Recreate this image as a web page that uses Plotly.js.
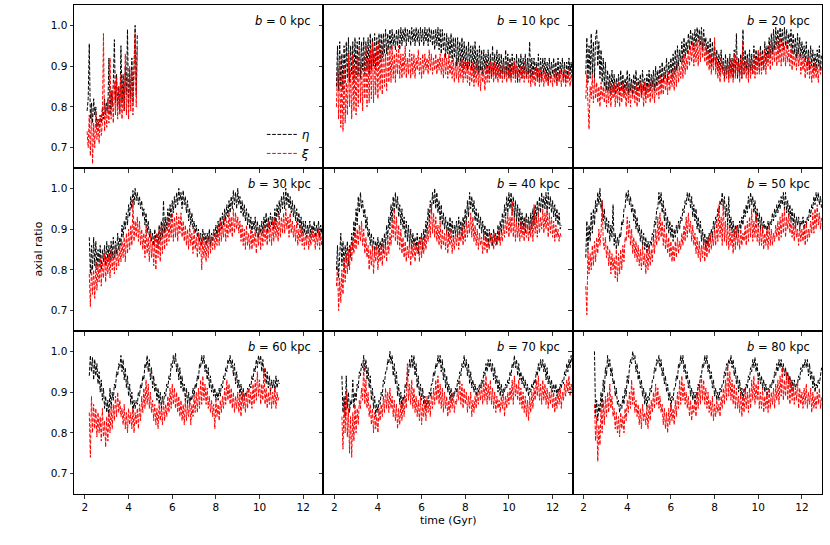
<!DOCTYPE html>
<html>
<head>
<meta charset="utf-8">
<script src="https://cdn.plot.ly/plotly-3.0.1.min.js"></script>
<style>html,body{margin:0;padding:0;background:#fff;}#chart{width:830px;height:545px;}</style>
</head>
<body>
<div id="chart"></div>
<script>
// time grid (Gyr)
const timeGyr = [2.1,2.15,2.2,2.25,2.3,2.35,2.4,2.45,2.5,2.55,
2.6,2.65,2.7,2.75,2.8,2.85,2.9,2.95,3.0,3.05,
3.1,3.15,3.2,3.25,3.3,3.35,3.4,3.45,3.5,3.55,
3.6,3.65,3.7,3.75,3.8,3.85,3.9,3.95,4.0,4.05,
4.1,4.15,4.2,4.25,4.3,4.35,4.4,4.45,4.5,4.55,
4.6,4.65,4.7,4.75,4.8,4.85,4.9,4.95,5.0,5.05,
5.1,5.15,5.2,5.25,5.3,5.35,5.4,5.45,5.5,5.55,
5.6,5.65,5.7,5.75,5.8,5.85,5.9,5.95,6.0,6.05,
6.1,6.15,6.2,6.25,6.3,6.35,6.4,6.45,6.5,6.55,
6.6,6.65,6.7,6.75,6.8,6.85,6.9,6.95,7.0,7.05,
7.1,7.15,7.2,7.25,7.3,7.35,7.4,7.45,7.5,7.55,
7.6,7.65,7.7,7.75,7.8,7.85,7.9,7.95,8.0,8.05,
8.1,8.15,8.2,8.25,8.3,8.35,8.4,8.45,8.5,8.55,
8.6,8.65,8.7,8.75,8.8,8.85,8.9,8.95,9.0,9.05,
9.1,9.15,9.2,9.25,9.3,9.35,9.4,9.45,9.5,9.55,
9.6,9.65,9.7,9.75,9.8,9.85,9.9,9.95,10.0,10.05,
10.1,10.15,10.2,10.25,10.3,10.35,10.4,10.45,10.5,10.55,
10.6,10.65,10.7,10.75,10.8,10.85,10.9,10.95,11.0,11.05,
11.1,11.15,11.2,11.25,11.3,11.35,11.4,11.45,11.5,11.55,
11.6,11.65,11.7,11.75,11.8,11.85,11.9,11.95,12.0,12.05,
12.1,12.15,12.2,12.25,12.3,12.35,12.4,12.45,12.5,12.55,
12.6,12.65,12.7,12.75,12.8,12.85,12.9];

const panelLabels = ["0","10","20","30","40","50","60","70","80"];
const xTicks = [2,4,6,8,10,12];
const yTicks = [0.7,0.8,0.9,1.0];
const yTickText = ["0.7","0.8","0.9","1.0"];

// b = 0 kpc
const eta_b0 = [0.79,0.82,0.955,0.77,0.81,0.76,0.82,0.78,0.80,0.75,
0.77,0.75,0.78,0.76,0.80,0.77,0.82,0.78,0.81,0.79,
0.92,0.78,0.84,0.80,0.86,0.965,0.81,0.88,0.80,0.85,
0.79,0.95,0.81,0.88,0.79,0.90,0.83,0.99,0.80,0.89,
0.82,0.92,0.81,0.91,1.00,0.83,0.98];
const xi_b0 = [0.74,0.70,0.78,0.68,0.80,0.66,0.76,0.70,0.79,0.72,
0.77,0.71,0.78,0.73,0.76,0.98,0.74,0.80,0.75,0.82,
0.76,0.92,0.77,0.84,0.76,0.86,0.78,0.87,0.77,0.85,
0.78,0.88,0.77,0.86,0.79,0.93,0.78,0.88,0.77,0.90,
0.79,0.89,0.78,0.91,0.98,0.80,0.95];

// b = 10 kpc
const eta_b10 = [0.85,0.95,0.84,0.96,0.85,0.93,0.84,0.95,0.86,0.96,
0.87,0.97,0.86,0.95,0.88,0.96,0.86,0.97,0.87,0.96,
0.88,0.97,0.87,0.96,0.89,0.97,0.88,0.96,0.89,0.97,
0.88,0.98,0.89,0.97,0.90,0.98,0.89,0.97,0.90,0.98,
0.91,0.98,0.92,0.98,0.93,0.99,0.93,0.98,0.94,0.99,
0.94,0.99,0.95,0.98,0.94,0.99,0.95,0.99,0.94,0.995,
0.95,0.99,0.96,0.995,0.95,0.99,0.96,0.99,0.95,0.995,
0.96,0.99,0.95,0.995,0.96,0.99,0.95,0.995,0.96,0.99,
0.95,0.995,0.96,0.99,0.95,0.995,0.96,0.99,0.95,0.99,
0.94,0.99,0.95,0.995,0.94,0.99,0.93,0.99,0.94,0.98,
0.92,0.98,0.93,0.97,0.92,0.98,0.91,0.97,0.92,0.97,
0.90,0.97,0.91,0.96,0.90,0.97,0.89,0.96,0.90,0.95,
0.89,0.96,0.90,0.95,0.89,0.95,0.88,0.96,0.89,0.94,
0.88,0.95,0.89,0.94,0.88,0.94,0.89,0.93,0.88,0.94,
0.88,0.93,0.87,0.95,0.88,0.93,0.87,0.94,0.88,0.93,
0.87,0.93,0.88,0.92,0.87,0.94,0.88,0.93,0.87,0.92,
0.87,0.93,0.88,0.92,0.87,0.93,0.86,0.92,0.88,0.93,
0.87,0.92,0.88,0.93,0.87,0.92,0.88,0.96,0.87,0.92,
0.87,0.92,0.88,0.91,0.87,0.93,0.86,0.92,0.87,0.92,
0.88,0.92,0.87,0.91,0.86,0.92,0.87,0.91,0.88,0.92,
0.87,0.91,0.86,0.92,0.87,0.91,0.88,0.92,0.87,0.91,
0.86,0.91,0.87,0.92,0.88,0.91,0.87];
const xi_b10 = [0.80,0.90,0.77,0.92,0.75,0.88,0.74,0.90,0.76,0.86,
0.78,0.93,0.80,0.89,0.77,0.93,0.79,0.90,0.78,0.92,
0.80,0.95,0.81,0.91,0.79,0.93,0.82,0.95,0.80,0.92,
0.81,0.94,0.82,0.96,0.81,0.93,0.83,0.95,0.82,0.96,
0.84,0.94,0.83,0.96,0.85,0.93,0.84,0.95,0.86,0.94,
0.86,0.95,0.87,0.93,0.86,0.94,0.88,0.95,0.87,0.93,
0.87,0.93,0.88,0.95,0.87,0.92,0.88,0.94,0.87,0.93,
0.88,0.93,0.87,0.92,0.89,0.94,0.88,0.92,0.87,0.93,
0.88,0.93,0.89,0.92,0.88,0.94,0.89,0.93,0.88,0.92,
0.89,0.93,0.88,0.92,0.89,0.93,0.88,0.92,0.87,0.93,
0.88,0.92,0.87,0.93,0.88,0.91,0.87,0.92,0.86,0.91,
0.87,0.92,0.86,0.91,0.87,0.92,0.86,0.91,0.87,0.91,
0.86,0.91,0.85,0.90,0.86,0.91,0.85,0.90,0.86,0.91,
0.85,0.90,0.84,0.90,0.86,0.89,0.84,0.91,0.86,0.90,
0.86,0.91,0.87,0.90,0.86,0.91,0.87,0.90,0.86,0.91,
0.87,0.90,0.86,0.91,0.87,0.90,0.86,0.91,0.87,0.90,
0.86,0.90,0.87,0.91,0.86,0.90,0.87,0.89,0.86,0.90,
0.87,0.90,0.86,0.91,0.87,0.89,0.86,0.90,0.85,0.89,
0.86,0.89,0.85,0.90,0.86,0.89,0.85,0.89,0.86,0.88,
0.85,0.89,0.86,0.88,0.85,0.89,0.86,0.88,0.85,0.89,
0.86,0.89,0.85,0.88,0.86,0.89,0.85,0.88,0.86,0.89,
0.85,0.88,0.86,0.89,0.85,0.88,0.86];

// b = 20 kpc
const eta_b20 = [0.88,0.97,0.86,0.95,0.87,0.98,0.88,0.96,0.87,0.97,
0.99,0.90,0.96,0.87,0.94,0.86,0.92,0.85,0.91,0.84,
0.89,0.84,0.88,0.83,0.89,0.84,0.88,0.83,0.87,0.84,
0.88,0.83,0.89,0.84,0.88,0.83,0.87,0.84,0.89,0.83,
0.88,0.84,0.87,0.83,0.88,0.84,0.89,0.83,0.87,0.84,
0.88,0.83,0.89,0.84,0.87,0.83,0.88,0.84,0.89,0.84,
0.88,0.85,0.89,0.84,0.90,0.85,0.89,0.86,0.90,0.85,
0.91,0.86,0.90,0.87,0.92,0.86,0.91,0.88,0.92,0.87,
0.93,0.88,0.94,0.89,0.95,0.90,0.94,0.91,0.96,0.91,
0.97,0.92,0.96,0.93,0.98,0.94,0.99,0.95,0.98,0.94,
0.99,0.95,0.995,0.96,0.99,0.95,0.995,0.94,0.99,0.95,
0.97,0.93,0.96,0.91,0.97,0.90,0.96,0.91,0.95,0.90,
0.94,0.89,0.93,0.88,0.94,0.89,0.92,0.87,0.93,0.88,
0.92,0.87,0.93,0.88,0.92,0.87,0.94,0.88,0.98,0.87,
0.92,0.88,0.93,0.87,0.99,0.88,0.94,0.89,0.93,0.88,
0.94,0.89,0.93,0.88,0.95,0.89,0.94,0.90,0.93,0.89,
0.95,0.90,0.94,0.89,0.96,0.91,0.95,0.92,0.97,0.92,
0.98,0.93,0.99,0.94,0.995,0.95,0.99,0.94,0.995,0.95,
0.99,0.94,0.995,0.95,0.99,0.94,0.98,0.95,0.99,0.93,
0.98,0.93,0.97,0.92,0.98,0.93,0.97,0.92,0.96,0.92,
0.95,0.91,0.96,0.90,0.94,0.89,0.95,0.90,0.94,0.89,
0.93,0.89,0.94,0.90,0.95,0.89,0.93];
const xi_b20 = [0.82,0.88,0.81,0.745,0.85,0.82,0.88,0.81,0.87,0.82,
0.86,0.81,0.85,0.80,0.86,0.82,0.85,0.81,0.86,0.80,
0.85,0.81,0.86,0.80,0.85,0.82,0.86,0.80,0.85,0.81,
0.86,0.80,0.85,0.81,0.86,0.82,0.85,0.80,0.86,0.81,
0.85,0.80,0.86,0.82,0.85,0.81,0.86,0.80,0.85,0.81,
0.86,0.82,0.85,0.80,0.86,0.81,0.85,0.82,0.86,0.81,
0.86,0.82,0.87,0.81,0.86,0.83,0.87,0.82,0.88,0.83,
0.87,0.83,0.88,0.84,0.87,0.83,0.89,0.84,0.88,0.85,
0.89,0.84,0.90,0.85,0.91,0.86,0.90,0.87,0.92,0.87,
0.93,0.88,0.92,0.89,0.94,0.90,0.95,0.91,0.96,0.90,
0.95,0.91,0.96,0.90,0.97,0.91,0.975,0.92,0.96,0.91,
0.95,0.90,0.94,0.89,0.93,0.88,0.92,0.89,0.97,0.88,
0.92,0.87,0.91,0.86,0.92,0.88,0.91,0.86,0.90,0.87,
0.91,0.86,0.92,0.87,0.91,0.86,0.93,0.87,0.92,0.88,
0.91,0.86,0.92,0.87,0.96,0.88,0.91,0.87,0.92,0.86,
0.92,0.87,0.91,0.88,0.93,0.87,0.92,0.88,0.94,0.88,
0.93,0.88,0.92,0.89,0.94,0.88,0.93,0.90,0.95,0.89,
0.96,0.90,0.95,0.91,0.97,0.90,0.96,0.91,0.97,0.90,
0.96,0.91,0.95,0.90,0.96,0.91,0.94,0.90,0.95,0.89,
0.94,0.90,0.93,0.89,0.94,0.90,0.93,0.88,0.92,0.89,
0.92,0.87,0.91,0.88,0.92,0.87,0.91,0.86,0.90,0.87,
0.91,0.87,0.90,0.86,0.91,0.88,0.90];

// b = 30 kpc
const eta_b30 = [null,null,0.88,0.79,0.86,0.80,0.88,0.81,0.87,0.80,
0.85,0.81,0.86,0.80,0.85,0.82,0.86,0.81,0.87,0.82,
0.86,0.82,0.87,0.83,0.88,0.83,0.87,0.84,0.89,0.85,
0.88,0.86,0.91,0.88,0.92,0.90,0.94,0.91,0.96,0.93,
0.98,0.95,0.995,0.96,1.00,0.97,0.99,0.96,0.98,0.95,
0.97,0.93,0.95,0.91,0.94,0.89,0.92,0.88,0.90,0.87,
0.89,0.86,0.90,0.87,0.89,0.86,0.91,0.87,0.92,0.88,
0.97,0.89,0.93,0.90,0.95,0.91,0.96,0.92,0.97,0.94,
0.98,0.95,0.99,0.96,1.00,0.97,0.99,0.95,0.995,0.96,
0.98,0.94,0.97,0.92,0.95,0.91,0.94,0.90,0.92,0.89,
0.91,0.88,0.90,0.87,0.89,0.86,0.90,0.87,0.89,0.86,
0.89,0.87,0.90,0.86,0.89,0.87,0.90,0.88,0.91,0.88,
0.92,0.89,0.93,0.90,0.94,0.91,0.95,0.92,0.96,0.93,
0.97,0.94,0.98,0.95,0.995,0.96,0.99,0.95,1.00,0.96,
0.98,0.94,0.97,0.93,0.96,0.92,0.95,0.91,0.94,0.90,
0.93,0.89,0.92,0.90,0.93,0.89,0.92,0.88,0.91,0.89,
0.92,0.89,0.93,0.90,0.94,0.89,0.93,0.90,0.94,0.91,
0.93,0.90,0.95,0.91,0.96,0.93,0.97,0.94,0.98,0.95,
0.99,0.95,1.00,0.96,0.99,0.95,0.98,0.94,0.97,0.93,
0.96,0.92,0.95,0.91,0.94,0.90,0.93,0.89,0.92,0.89,
0.92,0.88,0.91,0.89,0.92,0.88,0.91,0.89,0.92,0.88,
0.91,0.89,0.92,0.88,0.91,0.89,0.92];
const xi_b30 = [null,null,0.79,0.71,0.81,0.74,0.80,0.73,0.82,0.75,
0.81,0.77,0.83,0.76,0.82,0.78,0.84,0.77,0.83,0.79,
0.84,0.78,0.85,0.80,0.84,0.79,0.86,0.80,0.85,0.81,
0.86,0.82,0.87,0.83,0.88,0.82,0.89,0.84,0.90,0.85,
0.91,0.86,0.97,0.87,0.92,0.88,0.93,0.87,0.92,0.86,
0.90,0.85,0.89,0.83,0.91,0.84,0.88,0.82,0.89,0.83,
0.87,0.81,0.88,0.80,0.89,0.83,0.90,0.82,0.91,0.84,
0.92,0.85,0.91,0.86,0.93,0.87,0.92,0.88,0.94,0.87,
0.93,0.88,0.94,0.87,0.93,0.89,0.94,0.88,0.92,0.87,
0.91,0.86,0.90,0.85,0.91,0.86,0.89,0.84,0.90,0.85,
0.88,0.83,0.89,0.84,0.87,0.80,0.88,0.83,0.87,0.82,
0.88,0.83,0.89,0.84,0.88,0.85,0.90,0.85,0.89,0.86,
0.91,0.86,0.92,0.87,0.91,0.88,0.93,0.87,0.92,0.88,
0.94,0.89,0.93,0.88,0.95,0.89,0.94,0.90,0.93,0.89,
0.92,0.87,0.91,0.86,0.90,0.85,0.91,0.86,0.89,0.85,
0.90,0.85,0.89,0.86,0.90,0.84,0.89,0.86,0.91,0.85,
0.90,0.86,0.91,0.87,0.90,0.86,0.92,0.87,0.91,0.86,
0.92,0.87,0.93,0.88,0.92,0.87,0.94,0.88,0.93,0.89,
0.94,0.89,0.95,0.90,0.93,0.88,0.94,0.89,0.92,0.88,
0.91,0.87,0.92,0.86,0.90,0.87,0.91,0.86,0.90,0.85,
0.89,0.86,0.90,0.85,0.89,0.86,0.90,0.87,0.89,0.85,
0.89,0.86,0.90,0.85,0.89,0.86,0.88];

// b = 40 kpc
const eta_b40 = [0.80,0.86,0.78,0.84,0.89,0.81,0.87,0.80,0.86,0.82,
0.87,0.81,0.86,0.83,0.89,0.85,0.92,0.88,0.95,0.91,
0.98,0.94,0.99,0.95,0.97,0.93,0.95,0.90,0.93,0.88,
0.90,0.86,0.89,0.85,0.88,0.84,0.87,0.85,0.88,0.84,
0.87,0.85,0.88,0.84,0.89,0.86,0.91,0.88,0.93,0.90,
0.96,0.92,0.98,0.94,0.99,0.95,0.98,0.93,0.96,0.91,
0.95,0.90,0.93,0.88,0.92,0.87,0.91,0.86,0.90,0.85,
0.89,0.86,0.88,0.85,0.89,0.84,0.88,0.86,0.89,0.85,
0.90,0.87,0.92,0.89,0.95,0.92,0.97,0.94,0.99,0.96,
1.00,0.95,0.99,0.94,0.97,0.92,0.96,0.91,0.94,0.90,
0.93,0.89,0.92,0.88,0.93,0.89,0.92,0.88,0.91,0.89,
0.92,0.88,0.93,0.89,0.92,0.88,0.93,0.90,0.95,0.91,
0.97,0.93,0.99,0.95,0.98,0.94,0.97,0.92,0.95,0.91,
0.94,0.90,0.93,0.89,0.92,0.88,0.91,0.87,0.90,0.86,
0.90,0.87,0.89,0.86,0.90,0.87,0.89,0.86,0.91,0.87,
0.92,0.89,0.94,0.90,0.96,0.93,0.98,0.94,0.99,0.95,
0.99,0.94,0.98,0.93,0.97,0.92,0.96,0.91,0.95,0.90,
0.94,0.90,0.93,0.89,0.94,0.90,0.93,0.89,0.94,0.90,
0.95,0.91,0.96,0.92,0.97,0.93,0.98,0.94,0.99,0.95,
0.98,0.95,0.99,0.94,0.99,0.95,0.98,0.94,0.97,0.93,
0.96,0.92,0.95,0.91,0.94,0.90,0.91];
const xi_b40 = [0.76,0.81,0.70,0.78,0.72,0.80,0.74,0.83,0.77,0.84,
0.79,0.85,0.80,0.86,0.82,0.87,0.84,0.89,0.85,0.90,
0.86,0.91,0.87,0.92,0.86,0.90,0.84,0.88,0.83,0.86,
0.80,0.85,0.81,0.86,0.79,0.85,0.82,0.86,0.80,0.85,
0.82,0.86,0.81,0.87,0.83,0.86,0.82,0.88,0.84,0.89,
0.86,0.92,0.88,0.95,0.87,0.93,0.86,0.91,0.85,0.90,
0.84,0.88,0.83,0.87,0.82,0.86,0.83,0.87,0.81,0.86,
0.83,0.87,0.82,0.86,0.84,0.87,0.82,0.88,0.83,0.87,
0.84,0.88,0.85,0.89,0.87,0.92,0.88,0.96,0.89,0.94,
0.88,0.93,0.87,0.91,0.86,0.92,0.85,0.90,0.86,0.89,
0.85,0.90,0.84,0.89,0.86,0.90,0.84,0.88,0.85,0.89,
0.86,0.90,0.85,0.89,0.87,0.91,0.86,0.90,0.87,0.92,
0.88,0.92,0.89,0.94,0.88,0.93,0.87,0.91,0.86,0.90,
0.85,0.89,0.86,0.88,0.84,0.89,0.85,0.88,0.84,0.87,
0.85,0.89,0.86,0.88,0.85,0.89,0.86,0.88,0.87,0.90,
0.86,0.89,0.87,0.91,0.88,0.93,0.89,0.94,0.88,0.93,
0.89,0.97,0.88,0.93,0.87,0.92,0.88,0.91,0.87,0.92,
0.88,0.91,0.87,0.93,0.88,0.91,0.87,0.92,0.88,0.93,
0.87,0.96,0.89,0.93,0.88,0.94,0.89,0.93,0.90,0.95,
0.89,0.94,0.90,0.95,0.88,0.94,0.89,0.93,0.88,0.92,
0.87,0.91,0.88,0.90,0.87,0.89,0.88];

// b = 50 kpc
const eta_b50 = [0.83,0.92,0.85,0.91,0.87,0.94,0.89,0.95,0.91,0.97,
0.94,0.99,0.96,1.00,0.95,0.97,0.92,0.95,0.90,0.93,
0.89,0.92,0.87,0.91,0.88,0.96,0.86,0.89,0.85,0.88,
0.86,0.89,0.88,0.92,0.91,0.95,0.95,0.99,0.97,0.995,
0.96,0.98,0.94,0.96,0.92,0.95,0.90,0.93,0.89,0.91,
0.87,0.90,0.86,0.89,0.85,0.88,0.84,0.87,0.85,0.87,
0.86,0.89,0.88,0.92,0.91,0.95,0.95,0.99,0.96,0.99,
0.94,0.97,0.92,0.95,0.90,0.93,0.89,0.92,0.88,0.91,
0.87,0.90,0.88,0.91,0.89,0.92,0.90,0.93,0.92,0.95,
0.94,0.97,0.96,0.99,0.97,0.99,0.95,0.98,0.93,0.96,
0.92,0.95,0.90,0.93,0.89,0.92,0.87,0.90,0.86,0.89,
0.85,0.88,0.86,0.89,0.87,0.90,0.88,0.92,0.90,0.93,
0.92,0.95,0.94,0.97,0.96,0.99,0.95,0.98,0.93,0.96,
0.91,0.98,0.90,0.93,0.89,0.92,0.88,0.91,0.88,0.91,
0.89,0.92,0.90,0.93,0.91,0.95,0.93,0.96,0.94,0.98,
0.95,0.99,0.96,0.98,0.94,0.97,0.92,0.95,0.91,0.94,
0.90,0.93,0.89,0.92,0.90,0.91,0.89,0.92,0.90,0.92,
0.91,0.94,0.92,0.95,0.93,0.96,0.94,0.97,0.95,0.98,
0.96,0.99,0.95,0.99,0.94,0.97,0.93,0.96,0.92,0.95,
0.91,0.94,0.90,0.93,0.91,0.93,0.90,0.92,0.91,0.93,
0.90,0.92,0.91,0.93,0.92,0.95,0.93,0.96,0.95,0.98,
0.96,0.99,0.97,0.99,0.96,0.98,0.95];
const xi_b50 = [0.76,0.69,0.85,0.79,0.84,0.80,0.86,0.81,0.87,0.82,
0.88,0.84,0.90,0.86,0.89,0.97,0.87,0.85,0.88,0.83,
0.86,0.81,0.85,0.79,0.84,0.80,0.83,0.78,0.85,0.77,
0.84,0.79,0.85,0.80,0.86,0.82,0.88,0.87,0.93,0.88,
0.92,0.86,0.90,0.84,0.88,0.83,0.87,0.82,0.86,0.81,
0.85,0.80,0.86,0.81,0.84,0.79,0.85,0.80,0.86,0.81,
0.85,0.82,0.88,0.84,0.90,0.86,0.93,0.87,0.94,0.88,
0.92,0.86,0.91,0.85,0.89,0.84,0.88,0.83,0.87,0.82,
0.86,0.82,0.87,0.83,0.88,0.84,0.87,0.85,0.89,0.86,
0.91,0.87,0.93,0.88,0.94,0.89,0.92,0.87,0.91,0.86,
0.89,0.84,0.88,0.83,0.87,0.82,0.86,0.83,0.88,0.82,
0.87,0.83,0.88,0.84,0.89,0.85,0.88,0.86,0.90,0.86,
0.92,0.87,0.96,0.88,0.93,0.86,0.97,0.87,0.92,0.86,
0.91,0.85,0.90,0.86,0.89,0.84,0.90,0.85,0.91,0.86,
0.89,0.85,0.90,0.86,0.89,0.87,0.91,0.86,0.92,0.87,
0.93,0.88,0.95,0.87,0.92,0.88,0.94,0.87,0.91,0.86,
0.90,0.86,0.91,0.85,0.89,0.86,0.90,0.85,0.91,0.86,
0.90,0.86,0.89,0.87,0.91,0.88,0.92,0.87,0.93,0.88,
0.94,0.89,0.95,0.88,0.93,0.90,0.94,0.89,0.92,0.88,
0.91,0.87,0.92,0.88,0.90,0.86,0.91,0.87,0.90,0.87,
0.91,0.86,0.92,0.87,0.90,0.88,0.92,0.89,0.94,0.89,
0.95,0.90,0.96,0.91,0.94,0.90,0.93];

// b = 60 kpc
const eta_b60 = [null,null,0.94,0.99,0.95,0.985,0.93,0.98,0.94,0.97,
0.92,0.95,0.90,0.93,0.88,0.91,0.86,0.89,0.85,0.88,
0.84,0.91,0.86,0.90,0.88,0.92,0.91,0.95,0.94,0.97,
0.96,0.99,0.95,0.98,0.93,0.96,0.91,0.94,0.89,0.92,
0.87,0.90,0.85,0.88,0.86,0.88,0.87,0.90,0.89,0.92,
0.91,0.94,0.93,0.97,0.96,0.99,0.95,0.98,0.93,0.96,
0.91,0.94,0.90,0.92,0.88,0.91,0.87,0.90,0.86,0.89,
0.87,0.90,0.89,0.92,0.91,0.94,0.93,0.97,0.96,0.99,
0.97,0.995,0.95,0.97,0.93,0.96,0.91,0.94,0.90,0.92,
0.88,0.91,0.87,0.90,0.87,0.89,0.88,0.91,0.89,0.92,
0.91,0.94,0.93,0.97,0.96,0.99,0.97,0.99,0.95,0.97,
0.93,0.96,0.91,0.94,0.90,0.92,0.89,0.91,0.88,0.90,
0.88,0.91,0.89,0.92,0.91,0.94,0.93,0.96,0.95,0.98,
0.97,0.99,0.96,0.98,0.94,0.97,0.92,0.95,0.91,0.93,
0.89,0.92,0.88,0.91,0.88,0.90,0.89,0.91,0.90,0.92,
0.91,0.94,0.93,0.96,0.95,0.98,0.96,0.99,0.97,0.99,
0.95,0.98,0.94,0.96,0.92,0.95,0.91,0.94,0.90,0.93,
0.91,0.93,0.90,0.94,0.91,0.93,0.92];
const xi_b60 = [null,null,0.85,0.74,0.89,0.80,0.87,0.81,0.86,0.79,
0.85,0.80,0.84,0.78,0.86,0.79,0.83,0.765,0.84,0.78,
0.85,0.80,0.86,0.81,0.87,0.83,0.89,0.84,0.90,0.85,
0.88,0.84,0.86,0.82,0.87,0.81,0.85,0.80,0.86,0.82,
0.85,0.81,0.86,0.80,0.85,0.82,0.86,0.81,0.87,0.83,
0.89,0.85,0.91,0.86,0.93,0.87,0.92,0.86,0.90,0.85,
0.88,0.83,0.87,0.82,0.86,0.81,0.87,0.83,0.86,0.82,
0.88,0.83,0.87,0.84,0.89,0.85,0.91,0.86,0.92,0.87,
0.91,0.86,0.90,0.85,0.89,0.84,0.88,0.83,0.87,0.82,
0.88,0.83,0.87,0.84,0.88,0.82,0.87,0.84,0.89,0.85,
0.90,0.85,0.91,0.86,0.93,0.87,0.94,0.88,0.92,0.87,
0.91,0.86,0.89,0.85,0.88,0.84,0.87,0.81,0.88,0.84,
0.87,0.83,0.88,0.85,0.89,0.86,0.91,0.87,0.93,0.88,
0.92,0.87,0.91,0.86,0.90,0.85,0.89,0.86,0.90,0.85,
0.89,0.84,0.90,0.86,0.89,0.85,0.90,0.86,0.91,0.87,
0.90,0.86,0.92,0.87,0.93,0.88,0.95,0.89,0.93,0.87,
0.92,0.88,0.96,0.87,0.91,0.86,0.90,0.87,0.91,0.86,
0.90,0.87,0.91,0.86,0.90,0.88,0.89];

// b = 70 kpc
const eta_b70 = [null,null,null,null,null,0.94,0.85,0.89,0.84,0.94,
0.86,0.90,0.85,0.88,0.87,0.93,0.86,0.90,0.88,0.92,
0.91,0.95,0.94,0.97,0.96,0.99,0.95,0.98,0.93,0.96,
0.91,0.94,0.88,0.91,0.86,0.89,0.84,0.87,0.85,0.88,
0.87,0.90,0.89,0.93,0.92,0.95,0.95,0.98,0.97,1.00,
0.97,0.99,0.94,0.97,0.92,0.95,0.89,0.92,0.87,0.90,
0.86,0.89,0.88,0.92,0.91,0.95,0.94,0.98,0.96,0.99,
0.96,0.99,0.94,0.97,0.91,0.94,0.89,0.92,0.88,0.91,
0.87,0.89,0.86,0.88,0.87,0.90,0.89,0.92,0.92,0.95,
0.94,0.97,0.96,0.99,0.97,0.99,0.95,0.98,0.93,0.96,
0.91,0.94,0.90,0.92,0.88,0.91,0.88,0.90,0.89,0.91,
0.90,0.93,0.92,0.95,0.94,0.97,0.96,0.99,0.96,0.98,
0.94,0.97,0.92,0.95,0.91,0.93,0.90,0.92,0.89,0.91,
0.90,0.92,0.91,0.93,0.92,0.95,0.94,0.97,0.95,0.98,
0.96,0.98,0.95,0.97,0.93,0.96,0.92,0.94,0.90,0.93,
0.89,0.92,0.89,0.91,0.90,0.92,0.91,0.93,0.92,0.95,
0.94,0.97,0.96,0.99,0.96,0.98,0.94,0.97,0.93,0.95,
0.92,0.94,0.91,0.93,0.90,0.92,0.89,0.91,0.90,0.92,
0.91,0.93,0.92,0.95,0.94,0.97,0.95,0.98,0.96,0.98,
0.95,0.97,0.93,0.96,0.92,0.94,0.91,0.93,0.90,0.92,
0.90,0.92,0.89,0.91,0.90,0.92,0.91,0.93,0.92,0.95,
0.94,0.97,0.95,0.98,0.96,0.99,0.97];
const xi_b70 = [null,null,null,null,null,0.84,0.76,0.88,0.80,0.90,
0.79,0.86,0.75,0.84,0.74,0.85,0.78,0.87,0.80,0.86,
0.82,0.88,0.86,0.91,0.88,0.97,0.87,0.93,0.86,0.90,
0.84,0.87,0.82,0.86,0.80,0.85,0.81,0.84,0.80,0.86,
0.83,0.87,0.84,0.89,0.85,0.91,0.86,0.90,0.85,0.91,
0.86,0.89,0.84,0.88,0.83,0.87,0.81,0.86,0.82,0.87,
0.83,0.88,0.84,0.89,0.86,0.97,0.88,0.92,0.87,0.93,
0.86,0.91,0.85,0.89,0.84,0.88,0.83,0.89,0.82,0.87,
0.84,0.88,0.83,0.89,0.85,0.88,0.84,0.90,0.86,0.91,
0.87,0.93,0.88,0.94,0.87,0.92,0.86,0.91,0.85,0.90,
0.86,0.89,0.84,0.88,0.85,0.89,0.86,0.90,0.85,0.88,
0.87,0.91,0.88,0.93,0.87,0.92,0.86,0.91,0.87,0.90,
0.85,0.89,0.86,0.90,0.84,0.88,0.85,0.89,0.86,0.90,
0.87,0.91,0.88,0.92,0.87,0.93,0.88,0.94,0.87,0.92,
0.88,0.93,0.87,0.91,0.86,0.90,0.85,0.89,0.86,0.88,
0.85,0.89,0.86,0.90,0.84,0.89,0.86,0.90,0.87,0.91,
0.88,0.93,0.87,0.94,0.89,0.92,0.88,0.93,0.87,0.91,
0.86,0.90,0.85,0.89,0.84,0.88,0.83,0.89,0.85,0.90,
0.86,0.91,0.88,0.93,0.89,0.94,0.88,0.92,0.87,0.93,
0.88,0.92,0.87,0.91,0.86,0.90,0.87,0.91,0.86,0.90,
0.85,0.89,0.86,0.90,0.87,0.91,0.86,0.90,0.88,0.92,
0.89,0.93,0.90,0.94,0.89,0.92,0.90];

// b = 80 kpc
const eta_b80 = [null,null,null,null,null,null,null,null,1.00,0.84,
0.88,0.83,0.87,0.85,0.90,0.86,0.93,0.90,0.96,0.94,
0.99,0.96,0.98,0.94,0.96,0.92,0.93,0.89,0.91,0.87,
0.88,0.85,0.87,0.86,0.89,0.87,0.91,0.89,0.94,0.92,
0.96,0.98,0.97,1.00,0.98,0.99,0.95,0.97,0.93,0.95,
0.91,0.93,0.89,0.91,0.87,0.90,0.86,0.89,0.88,0.91,
0.90,0.93,0.93,0.96,0.95,0.98,0.97,0.99,0.96,0.98,
0.94,0.96,0.92,0.94,0.90,0.92,0.88,0.90,0.86,0.89,
0.88,0.91,0.91,0.94,0.93,0.97,0.96,0.99,0.97,0.99,
0.95,0.97,0.93,0.95,0.91,0.93,0.89,0.91,0.88,0.90,
0.87,0.90,0.89,0.92,0.91,0.94,0.94,0.97,0.96,0.99,
0.97,0.99,0.95,0.97,0.93,0.95,0.91,0.93,0.89,0.91,
0.88,0.90,0.88,0.91,0.90,0.92,0.92,0.95,0.94,0.97,
0.96,0.98,0.97,0.99,0.96,0.98,0.94,0.96,0.92,0.94,
0.90,0.93,0.89,0.91,0.88,0.91,0.90,0.92,0.91,0.94,
0.93,0.96,0.95,0.98,0.96,0.985,0.95,0.97,0.93,0.95,
0.92,0.94,0.91,0.93,0.90,0.92,0.89,0.91,0.90,0.92,
0.91,0.93,0.92,0.95,0.94,0.97,0.95,0.98,0.96,0.98,
0.95,0.97,0.94,0.96,0.93,0.95,0.92,0.94,0.91,0.93,
0.90,0.93,0.91,0.92,0.92,0.94,0.93,0.96,0.95,0.97,
0.96,0.98,0.96,0.98,0.94,0.97,0.93,0.95,0.91,0.94,
0.90,0.92,0.91,0.93,0.92,0.95,0.96];
const xi_b80 = [null,null,null,null,null,null,null,null,0.87,0.78,
0.84,0.73,0.82,0.77,0.86,0.80,0.88,0.82,0.89,0.84,
0.90,0.85,0.92,0.86,0.89,0.84,0.86,0.81,0.85,0.80,
0.84,0.79,0.85,0.81,0.84,0.80,0.86,0.83,0.88,0.85,
0.90,0.86,0.93,0.87,0.91,0.85,0.88,0.84,0.87,0.82,
0.86,0.81,0.87,0.83,0.85,0.82,0.86,0.81,0.87,0.83,
0.88,0.85,0.90,0.86,0.92,0.87,0.91,0.86,0.89,0.85,
0.87,0.82,0.86,0.81,0.85,0.80,0.86,0.82,0.87,0.83,
0.86,0.82,0.88,0.84,0.90,0.86,0.93,0.87,0.94,0.88,
0.92,0.87,0.90,0.86,0.89,0.84,0.88,0.83,0.87,0.85,
0.88,0.84,0.90,0.86,0.92,0.87,0.94,0.88,0.93,0.87,
0.91,0.86,0.90,0.85,0.88,0.84,0.89,0.83,0.87,0.84,
0.88,0.85,0.87,0.84,0.89,0.86,0.91,0.87,0.93,0.88,
0.97,0.89,0.95,0.88,0.93,0.87,0.92,0.86,0.91,0.86,
0.89,0.85,0.90,0.84,0.89,0.85,0.91,0.86,0.90,0.85,
0.91,0.86,0.93,0.88,0.94,0.87,0.92,0.88,0.93,0.86,
0.90,0.86,0.91,0.85,0.89,0.86,0.90,0.85,0.91,0.86,
0.90,0.87,0.91,0.86,0.92,0.88,0.93,0.87,0.94,0.89,
0.96,0.88,0.93,0.89,0.95,0.88,0.94,0.87,0.93,0.88,
0.92,0.87,0.91,0.88,0.93,0.86,0.91,0.87,0.90,0.86,
0.91,0.87,0.92,0.86,0.90,0.87,0.91,0.85,0.90,0.86,
0.89,0.86,0.90,0.87,0.91,0.86,0.89];

const etaSeries = [eta_b0,eta_b10,eta_b20,eta_b30,eta_b40,eta_b50,eta_b60,eta_b70,eta_b80];
const xiSeries  = [xi_b0,xi_b10,xi_b20,xi_b30,xi_b40,xi_b50,xi_b60,xi_b70,xi_b80];

const FONT = "DejaVu Sans, Arial, sans-serif";
const dash = "3.7px,1.6px";
const traces = [];
const layout = {
  width: 830, height: 545,
  margin: {l: 74, r: 8, t: 5, b: 51},
  paper_bgcolor: "#fff", plot_bgcolor: "#fff",
  font: {family: FONT, size: 10.5, color: "#000"},
  showlegend: true,
  legend: {x: 0.322, xanchor: "right", y: 0.765, yanchor: "top",
           bgcolor: "rgba(0,0,0,0)", font: {family: FONT, size: 12},
           itemwidth: 30, tracegroupgap: 0},
  annotations: [],
};

for (let i = 0; i < 9; i++) {
  const r = Math.floor(i / 3), c = i % 3;
  const n = i + 1;
  const xa = "x" + (n === 1 ? "" : n), ya = "y" + (n === 1 ? "" : n);
  const xk = "xaxis" + (n === 1 ? "" : n), yk = "yaxis" + (n === 1 ? "" : n);
  const eta = etaSeries[i], xi = xiSeries[i];
  traces.push({
    x: timeGyr.slice(0, eta.length), y: eta, xaxis: xa, yaxis: ya,
    type: "scatter", mode: "lines", name: "<i>η</i>",
    line: {color: "#000", width: 1, dash: dash},
    showlegend: i === 0, hoverinfo: "skip"
  });
  traces.push({
    x: timeGyr.slice(0, xi.length), y: xi, xaxis: xa, yaxis: ya,
    type: "scatter", mode: "lines", name: "<i>ξ</i>",
    line: {color: "#ff0000", width: 1, dash: dash},
    showlegend: i === 0, hoverinfo: "skip"
  });
  layout[xk] = {
    domain: [c / 3, (c + 1) / 3], anchor: ya, range: [1.5, 12.92],
    tickvals: xTicks, ticktext: xTicks.map(String),
    showticklabels: r === 2, ticks: "outside", ticklen: 3.5, tickwidth: 0.8,
    tickcolor: "#000", showline: true, mirror: true, linecolor: "#000", linewidth: 1,
    showgrid: false, zeroline: false, tickfont: {family: FONT, size: 10.5}
  };
  layout[yk] = {
    domain: [1 - (r + 1) / 3, 1 - r / 3], anchor: xa, range: [0.65, 1.05],
    tickvals: yTicks, ticktext: yTickText,
    showticklabels: c === 0, ticks: "outside", ticklen: 3.5, tickwidth: 0.8,
    tickcolor: "#000", showline: true, mirror: true, linecolor: "#000", linewidth: 1,
    showgrid: false, zeroline: false, tickfont: {family: FONT, size: 10.5}
  };
  layout.annotations.push({
    xref: xa + " domain", yref: ya + " domain", x: 0.958, y: 0.955,
    xanchor: "right", yanchor: "top", showarrow: false,
    text: "<i>b</i> = " + panelLabels[i] + " kpc",
    font: {family: FONT, size: 11.5, color: "#000"}
  });
}

layout.annotations.push({
  xref: "paper", yref: "paper", x: 0.5, y: -0.054, xanchor: "center", yanchor: "middle",
  showarrow: false, text: "time (Gyr)", font: {family: FONT, size: 11}
});
layout.annotations.push({
  xref: "paper", yref: "paper", x: -0.048, y: 0.5, xanchor: "center", yanchor: "middle",
  showarrow: false, text: "axial ratio", textangle: -90, font: {family: FONT, size: 11}
});

Plotly.newPlot("chart", traces, layout, {displayModeBar: false, staticPlot: true});
</script>
</body>
</html>
